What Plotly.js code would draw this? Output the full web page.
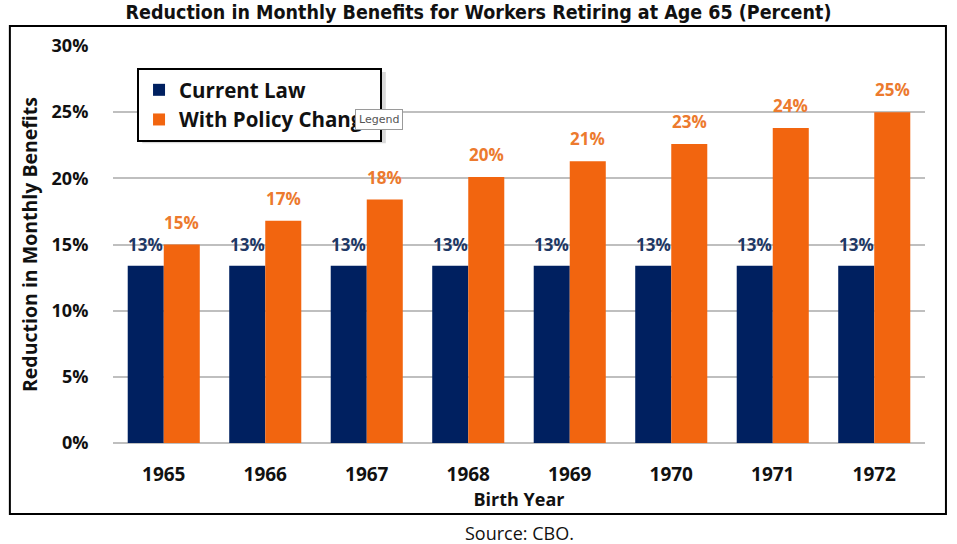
<!DOCTYPE html>
<html>
<head>
<meta charset="utf-8">
<script src="https://cdn.plot.ly/plotly-3.0.1.min.js"></script>
<style>html,body{margin:0;padding:0;background:#fff;}#chart{width:957px;height:544px;}</style>
</head>
<body>
<div id="chart"></div>
<script>
const birthYears = ['1965','1966','1967','1968','1969','1970','1971','1972'];
const currentLaw = [13.4, 13.4, 13.4, 13.4, 13.4, 13.4, 13.4, 13.4];
const policyChange = [15.0, 16.8, 18.4, 20.1, 21.3, 22.6, 23.8, 25.0];
const yTickVals = [0, 5, 10, 15, 20, 25, 30];
const yTickText = ['0%', '5%', '10%', '15%', '20%', '25%', '30%'];

const NAVY = '#002060', ORANGE = '#F2650F';
const FONT = 'Open Sans, Liberation Sans, sans-serif';
const tickFont = {family: FONT, size: 18, color: '#111', weight: 'bold'};

const traces = [
  {type: 'bar', name: 'Current Law', x: birthYears, y: currentLaw, marker: {color: NAVY}, hoverinfo: 'skip'},
  {type: 'bar', name: 'With Policy Change', x: birthYears, y: policyChange, marker: {color: ORANGE}, hoverinfo: 'skip'}
];

const annotations = [];
birthYears.forEach((yr, i) => {
  annotations.push({x: i, y: currentLaw[i], xref: 'x', yref: 'y', text: Math.round(currentLaw[i]) + '%',
    showarrow: false, yanchor: 'bottom', yshift: 8, xshift: -18,
    font: {family: FONT, size: 17, color: '#1F3864', weight: 'bold'}});
  annotations.push({x: i, y: policyChange[i], xref: 'x', yref: 'y', text: Math.round(policyChange[i]) + '%',
    showarrow: false, yanchor: 'bottom', yshift: 9, xshift: 18,
    font: {family: FONT, size: 17, color: '#EC7A2E', weight: 'bold'}});
});
annotations.push({xref: 'paper', yref: 'paper', x: 0.5, y: -0.227, yanchor: 'middle', showarrow: false,
  text: 'Source: CBO.', font: {family: FONT, size: 18, color: '#111'}});
annotations.push({xref: 'paper', yref: 'paper', x: 0.298, y: 0.814, xanchor: 'left', yanchor: 'middle', showarrow: false,
  text: 'Legend', bgcolor: '#fff', bordercolor: '#9a9a9a', borderwidth: 1, borderpad: 3,
  font: {family: 'DejaVu Sans, sans-serif', size: 11, color: '#555'}});

const layout = {
  width: 957, height: 544,
  margin: {l: 113, r: 32, t: 46, b: 101},
  paper_bgcolor: '#fff', plot_bgcolor: '#fff',
  barmode: 'group', bargap: 0.29, bargroupgap: 0,
  title: {text: 'Reduction in Monthly Benefits for Workers Retiring at Age 65 (Percent)',
    x: 0.5, xanchor: 'center', y: 0.978, yanchor: 'middle',
    font: {family: 'Liberation Sans Narrow, DejaVu Sans Condensed, sans-serif', size: 19.5, color: '#111', weight: 'bold'}},
  xaxis: {type: 'category', range: [-0.5, 7.5], autorange: false, tickfont: {...tickFont, size: 19},
    ticks: 'outside', ticklen: 14, tickcolor: 'rgba(0,0,0,0)',
    showgrid: false, showline: false, zeroline: false,
    title: {text: 'Birth Year', standoff: 0, font: {family: FONT, size: 18, color: '#111', weight: 'bold'}}},
  yaxis: {range: [0, 30], autorange: false, tickvals: yTickVals, ticktext: yTickText, tickfont: tickFont,
    ticks: 'outside', ticklen: 20, tickcolor: 'rgba(0,0,0,0)',
    showgrid: true, gridcolor: '#BFBFBF', gridwidth: 2, zeroline: true, zerolinecolor: '#BFBFBF', zerolinewidth: 2,
    showline: false,
    title: {text: 'Reduction in Monthly Benefits', standoff: 8, font: {family: FONT, size: 19.5, color: '#111', weight: 'bold'}}},
  showlegend: true,
  legend: {x: 0.0296, y: 0.9446, xanchor: 'left', yanchor: 'top', bgcolor: '#fff', bordercolor: '#000', borderwidth: 2,
    font: {family: FONT, size: 20.5, color: '#111', weight: 'bold'}, itemwidth: 30},
  shapes: [
    {type: 'rect', xref: 'paper', yref: 'paper', x0: -0.127, x1: 1.0258, y0: -0.1788, y1: 1.0504,
      line: {color: '#000', width: 2}, fillcolor: 'rgba(0,0,0,0)', layer: 'below'},
    {type: 'rect', xref: 'paper', yref: 'paper', x0: 0.036, x1: 0.336, y0: 0.755, y1: 0.9345,
      line: {width: 0}, fillcolor: 'rgba(0,0,0,0.15)', layer: 'above'}
  ],
  annotations: annotations
};

Plotly.newPlot('chart', traces, layout, {displayModeBar: false, staticPlot: true});
</script>
</body>
</html>
